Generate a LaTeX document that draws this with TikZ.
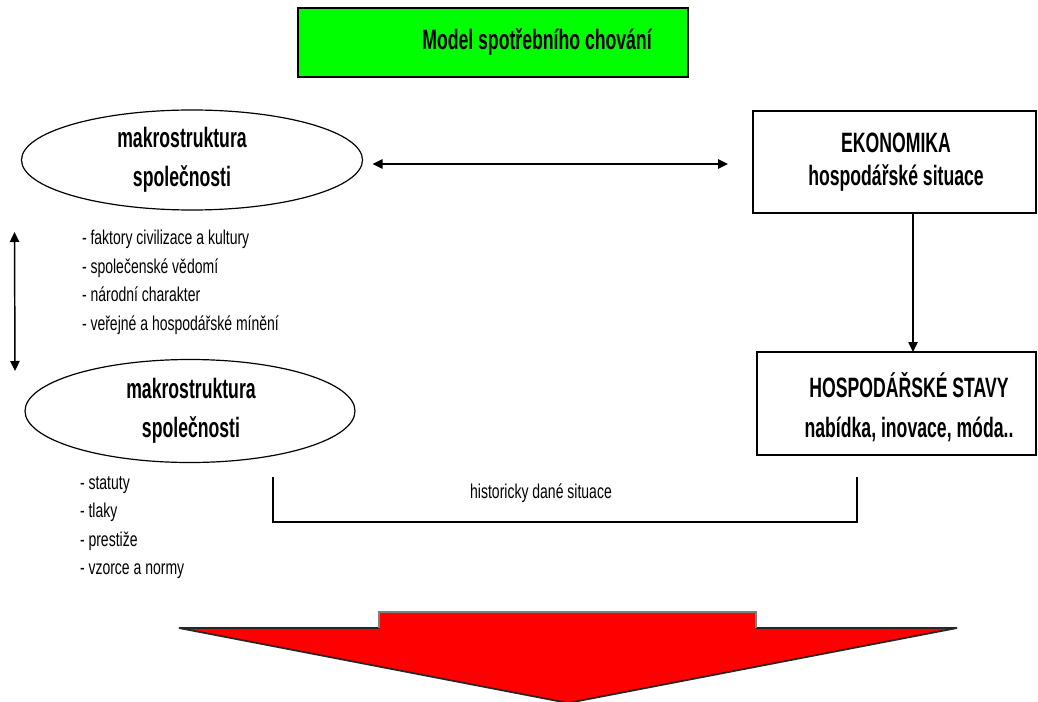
\documentclass[tikz,border=0pt]{standalone}
\usepackage{fontspec}
\setmainfont{Liberation Sans}
\newfontfamily\headfont{Liberation Sans}[FakeStretch=0.63]
\newfontfamily\listfont{Liberation Sans}[FakeStretch=0.70]
\usetikzlibrary{shapes.geometric,arrows.meta}

\begin{document}
\begin{tikzpicture}[x=0.75pt,y=-0.75pt,
  every node/.style={inner sep=0pt, outer sep=0pt},
  head/.style={font=\headfont\bfseries\fontsize{21}{29}\selectfont, align=center},
  listtext/.style={font=\listfont\fontsize{15}{21.4}\selectfont, align=left, anchor=west},
  oval/.style={ellipse, draw, line width=0.9pt},
  frame/.style={draw, line width=1.1pt, rectangle},
  tip/.style={Triangle[length=7.5pt,width=7pt]},
  link/.style={line width=1.1pt, -{Triangle[length=7.5pt,width=7pt]}},
  twoway/.style={line width=1.1pt, {Triangle[length=7.5pt,width=7pt]}-{Triangle[length=7.5pt,width=7pt]}}
]
\useasboundingbox (0,0) rectangle (1038,702);

% title bar
\node[frame, fill={rgb,255:red,0;green,255;blue,0}, minimum width=292.5pt, minimum height=51.75pt] (title) at (493,42.5) {};
\node[head] (titletext) at (537,42) {Model spotřebního chování};

% upper ellipse
\node[oval, minimum width=255.75pt, minimum height=75pt] (e1) at (192,160) {};
\node[head] (e1text) at (182,160) {makrostruktura\\společnosti};

% lower ellipse
\node[oval, minimum width=247.5pt, minimum height=77.25pt] (e2) at (190,411) {};
\node[head] (e2text) at (191,411) {makrostruktura\\společnosti};

% economy boxes
\node[frame, minimum width=212.25pt, minimum height=76.5pt] (eko) at (894.5,162) {};
\node[head, font=\headfont\bfseries\fontsize{21}{24.75}\selectfont] (ekotext) at (896,162) {EKONOMIKA\\hospodářské situace};

\node[frame, minimum width=209.25pt, minimum height=77.25pt] (hs) at (896.5,403.5) {};
\node[head, font=\headfont\bfseries\fontsize{21}{30}\selectfont] (hstext) at (909,407) {HOSPODÁŘSKÉ STAVY\\nabídka, inovace, móda..};

% item lists
\node[listtext] (list1) at (82,282.5) {- faktory civilizace a kultury\\- společenské vědomí\\- národní charakter\\- veřejné a hospodářské mínění};
\node[listtext] (list2) at (80,527.5) {- statuty\\- tlaky\\- prestiže\\- vzorce a normy};

% connectors
\draw[twoway] ([shift={(10,4)}]e1.east) -- ([shift={(-25,2)}]eko.west);
\draw[link] ([shift={(18.5,1)}]eko.south) -- ([shift={(16.5,0)}]hs.north);
\draw[twoway] ([shift={(-7,72)}]e1.west) -- ([shift={(-10,-40)}]e2.west);

% bracket for historical situations
\coordinate (bl) at (273,477);
\coordinate (br) at (857,477);
\draw[line width=1pt] (bl) -- (273,522) -- (857,522) -- (br);
\node[font=\listfont\fontsize{15}{18}\selectfont] (hist) at (541,493) {historicky dané situace};

% large red arrow
\fill[red] (179,628) -- (379,628) -- (379,612) -- (756,612) -- (756,628) -- (957,628) -- (568,703) -- cycle;
\draw[line width=1.3pt, black!85] (379,628) -- (179,628) -- (568,703) -- (957,628) -- (756,628);
\draw[line width=1.3pt, gray] (379,628) -- (379,612) -- (756,612) -- (756,628);
\end{tikzpicture}
\end{document}
